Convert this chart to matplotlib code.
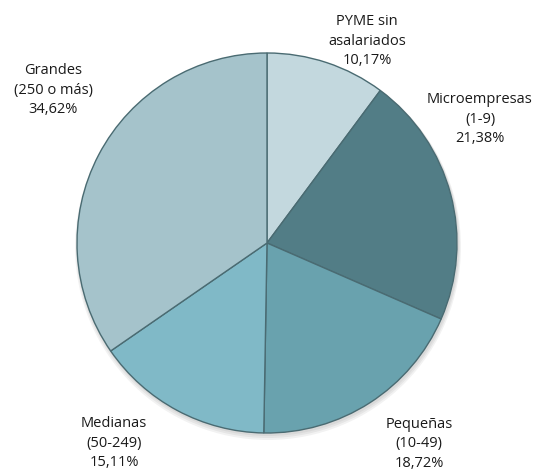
import matplotlib
matplotlib.use('Agg')
import matplotlib.pyplot as plt

# Data
labels = ['PYME sin\nasalariados', 'Microempresas\n(1-9)', 'Pequeñas\n(10-49)',
          'Medianas\n(50-249)', 'Grandes\n(250 o más)']
values = [10.17, 21.38, 18.72, 15.11, 34.62]
colors = ['#c3d8de', '#527d86', '#69a2ae', '#80b9c7', '#a5c3cb']

# label positions in pixel coords (x, y from top)
label_pos = [(367, 41), (480, 119), (419, 444), (114, 443), (53, 90)]

fig = plt.figure(figsize=(5.4, 4.74), dpi=100)
ax = fig.add_axes([0, 0, 1, 1])

cx, cy, r = 267, 474 - 243, 190

# soft shadow
for i in range(3):
    sh = plt.Circle((cx + 1, cy - 2 - i), r + 1 + i, color='black', alpha=0.05, lw=0)
    ax.add_patch(sh)

ax.pie(values, colors=colors, startangle=90, counterclock=False,
       center=(cx, cy), radius=r, frame=True,
       wedgeprops=dict(edgecolor='#4a6b72', linewidth=1.0))
ax.set_xlim(0, 540)
ax.set_ylim(0, 474)
ax.set_aspect('equal')
ax.axis('off')

for lab, v, (x, y) in zip(labels, values, label_pos):
    txt = '{}\n{:.2f}%'.format(lab, v).replace('.', ',')
    ax.text(x, 474 - y, txt, ha='center', va='center', fontsize=10.5,
            family='Open Sans', color='#1a1a1a', linespacing=1.45)

plt.savefig('out.png', dpi=100)
